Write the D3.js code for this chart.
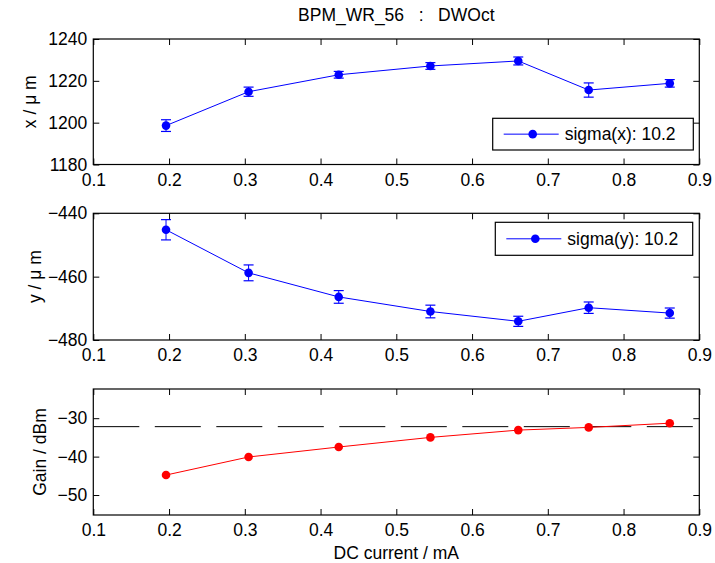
<!DOCTYPE html>
<html>
<head>
<meta charset="utf-8">
<script src="https://cdn.jsdelivr.net/npm/d3@7"></script>
<style>
  body { margin: 0; background: #fff; }
  text { font-family: "Liberation Sans", Arial, sans-serif; fill: #000; }
</style>
</head>
<body>
<svg id="chart" width="715" height="563"></svg>
<script>
// Data
const current = [0.196, 0.305, 0.424, 0.545, 0.661, 0.754, 0.861];
const posX = [1198.6, 1214.8, 1222.9, 1227.1, 1229.5, 1215.6, 1218.8];
const errX = [2.8, 2.2, 1.6, 1.6, 1.9, 3.4, 1.8];
const posY = [-445.2, -458.8, -466.4, -471.0, -474.1, -469.8, -471.5];
const errY = [3.2, 2.5, 2.0, 2.0, 1.6, 1.8, 1.6];
const gain = [-44.8, -40.1, -37.5, -35.0, -33.1, -32.4, -31.3];
const gainRef = -32.2;
const xTicks = [0.1, 0.2, 0.3, 0.4, 0.5, 0.6, 0.7, 0.8, 0.9];

const svg = d3.select("#chart");
const left = 93.3, right = 699.3;
const fontSize = 17.5;
const tickLen = 6;

const x = d3.scaleLinear().domain([0.1, 0.9]).range([left, right]);

const panels = [
    { top: 39, bottom: 164.5, domain: [1180, 1240], ticks: [1180, 1200, 1220, 1240],
      vals: posX, err: errX, color: "#0000ff", label: "x / \u03bc m", labelX: 30,
      legend: { text: "sigma(x): 10.2", x0: 492.7, x1: 693.3, y0: 118.3, y1: 150 } },
    { top: 213.3, bottom: 340, domain: [-480, -440], ticks: [-480, -460, -440],
      vals: posY, err: errY, color: "#0000ff", label: "y / \u03bc m", labelX: 35,
      legend: { text: "sigma(y): 10.2", x0: 495.3, x1: 692.7, y0: 222.3, y1: 255.3 } },
    { top: 389, bottom: 515, domain: [-55.2, -22.4], ticks: [-50, -40, -30],
      vals: gain, err: null, color: "#ff0000", label: "Gain / dBm", labelX: 40,
      legend: null, ref: gainRef }
];

svg.append("rect").attr("width", 715).attr("height", 563).attr("fill", "#fff");

// Title
svg.append("text")
    .attr("x", (left + right) / 2)
    .attr("y", 21)
    .attr("text-anchor", "middle")
    .style("font-size", fontSize + "px")
    .style("white-space", "pre")
    .text("BPM_WR_56   :   DWOct");

panels.forEach(p => {
    const y = d3.scaleLinear().domain(p.domain).range([p.bottom, p.top]);
    const g = svg.append("g");

    // dashed reference line
    if (p.ref !== undefined) {
        g.append("line")
            .attr("x1", left).attr("x2", right)
            .attr("y1", y(p.ref)).attr("y2", y(p.ref))
            .attr("stroke", "#000")
            .attr("stroke-width", 1)
            .attr("stroke-dasharray", "46,15.5");
    }

    const pts = current.map((c, i) => ({ c, v: p.vals[i], e: p.err ? p.err[i] : 0 }));

    // error bars
    if (p.err) {
        const eb = g.append("g").selectAll("g").data(pts).join("g");
        eb.append("line")
            .attr("x1", d => x(d.c)).attr("x2", d => x(d.c))
            .attr("y1", d => y(d.v - d.e)).attr("y2", d => y(d.v + d.e))
            .attr("stroke", p.color).attr("stroke-width", 1);
        [-1, 1].forEach(s => {
            eb.append("line")
                .attr("x1", d => x(d.c) - 5).attr("x2", d => x(d.c) + 5)
                .attr("y1", d => y(d.v + s * d.e)).attr("y2", d => y(d.v + s * d.e))
                .attr("stroke", p.color).attr("stroke-width", 1.2);
        });
    }

    const line = d3.line().x(d => x(d.c)).y(d => y(d.v));
    g.append("path")
        .datum(pts)
        .attr("d", line)
        .attr("fill", "none")
        .attr("stroke", p.color)
        .attr("stroke-width", 1);

    g.append("g").selectAll("circle")
        .data(pts)
        .join("circle")
        .attr("cx", d => x(d.c))
        .attr("cy", d => y(d.v))
        .attr("r", 4.3)
        .attr("fill", p.color);

    // axes box with inward ticks
    const h = p.bottom - p.top;
    g.append("g")
        .attr("transform", `translate(0,${p.bottom})`)
        .call(d3.axisBottom(x).tickValues(xTicks).tickSize(-tickLen).tickPadding(9).tickFormat(d3.format(".1f")))
        .call(a => a.select(".domain").remove());
    g.append("g")
        .attr("transform", `translate(0,${p.top})`)
        .call(d3.axisTop(x).tickValues(xTicks).tickSize(-tickLen).tickFormat(""))
        .call(a => a.select(".domain").remove());
    g.append("g")
        .attr("transform", `translate(${left},0)`)
        .call(d3.axisLeft(y).tickValues(p.ticks).tickSize(-tickLen).tickPadding(6).tickFormat(d3.format("d")))
        .call(a => a.select(".domain").remove());
    g.append("g")
        .attr("transform", `translate(${right},0)`)
        .call(d3.axisRight(y).tickValues(p.ticks).tickSize(-tickLen).tickFormat(""))
        .call(a => a.select(".domain").remove());
    g.selectAll(".tick text").style("font-size", fontSize + "px").attr("font-family", null);
    g.selectAll(".tick line").attr("stroke", "#000");

    g.append("rect")
        .attr("x", left).attr("y", p.top)
        .attr("width", right - left).attr("height", h)
        .attr("fill", "none")
        .attr("stroke", "#000")
        .attr("stroke-width", 1.2);

    // y label
    g.append("text")
        .attr("transform", `translate(${p.labelX},${(p.top + p.bottom) / 2}) rotate(-90)`)
        .attr("text-anchor", "middle")
        .attr("dy", "0.35em")
        .style("font-size", fontSize + "px")
        .style("white-space", "pre")
        .text(p.label);

    // legend
    if (p.legend) {
        const L = p.legend;
        const cy = (L.y0 + L.y1) / 2;
        g.append("rect")
            .attr("x", L.x0).attr("y", L.y0)
            .attr("width", L.x1 - L.x0).attr("height", L.y1 - L.y0)
            .attr("fill", "#fff").attr("stroke", "#000").attr("stroke-width", 1.2);
        g.append("line")
            .attr("x1", L.x0 + 11).attr("x2", L.x0 + 66)
            .attr("y1", cy).attr("y2", cy)
            .attr("stroke", p.color).attr("stroke-width", 1);
        g.append("circle")
            .attr("cx", L.x0 + 40).attr("cy", cy).attr("r", 4.3).attr("fill", p.color);
        g.append("text")
            .attr("x", L.x0 + 72).attr("y", cy)
            .attr("dy", "0.35em")
            .style("font-size", fontSize + "px")
            .text(L.text);
    }
});

// x label
svg.append("text")
    .attr("x", (left + right) / 2)
    .attr("y", 559)
    .attr("text-anchor", "middle")
    .style("font-size", fontSize + "px")
    .text("DC current / mA");
</script>
</body>
</html>
